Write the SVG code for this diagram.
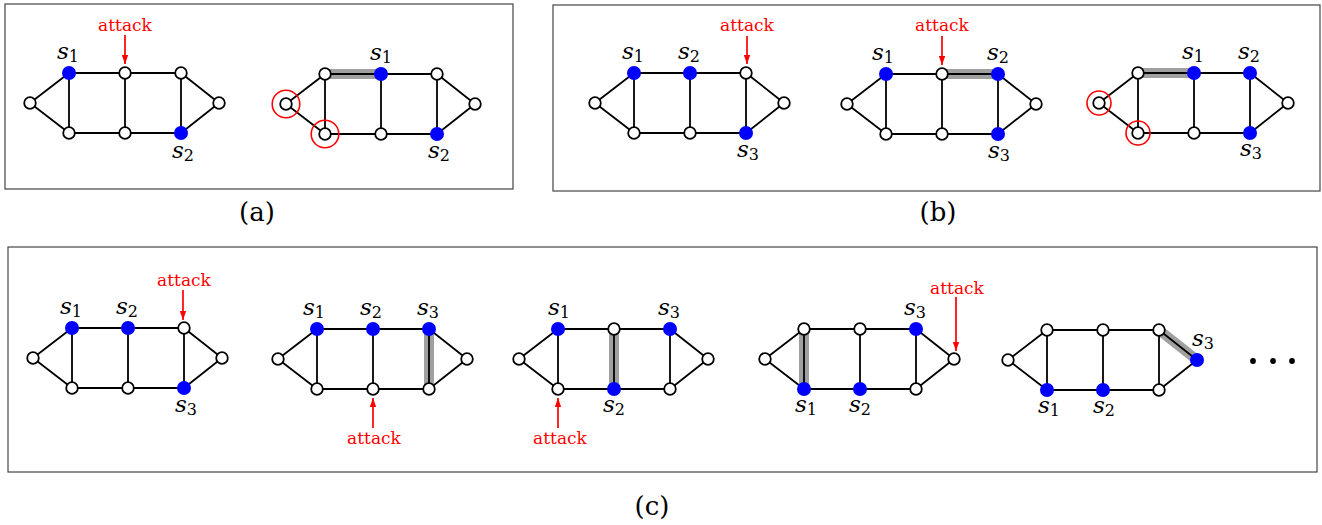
<svg xmlns="http://www.w3.org/2000/svg" xmlns:xlink="http://www.w3.org/1999/xlink" width="1322" height="525" viewBox="0 0 1322 525">
<style>
.box{fill:none;stroke:#444;stroke-width:1.2}
.e{fill:none;stroke:#000;stroke-width:1.8;stroke-linejoin:round}
.hl{stroke:#a0a0a0;stroke-width:10;stroke-linecap:butt}
.w{fill:#fff;stroke:#000;stroke-width:1.8}
.b{fill:#0000ff}
.rc{fill:none;stroke:#ff0000;stroke-width:1.6}
.lab{font-family:"DejaVu Serif",serif;font-size:23px;font-style:italic;text-anchor:middle;fill:#000}
.sub{font-size:16px;font-style:normal}
.att{font-family:"DejaVu Serif",serif;font-size:17px;fill:#ff0000;text-anchor:middle}
.arr{stroke:#ff0000;stroke-width:1.7;fill:none}
.cap{font-family:"DejaVu Serif",serif;font-size:26px;text-anchor:middle;fill:#000}
</style>
<defs>
<path id="sk" d="M-39,30 L0,0 L112,0 L150,30 L112,60 L0,60 Z M0,0 V60 M56,0 V60 M112,0 V60"/>
<marker id="ah" viewBox="0 0 10 7" refX="10" refY="3.5" markerWidth="9" markerHeight="6.3" markerUnits="userSpaceOnUse" orient="auto"><path d="M0,0 L10,3.5 L0,7 Z" fill="#ff0000"/></marker>
</defs>
<g id="frames">
<rect class="box" x="5" y="4" width="508" height="185"/>
<rect class="box" x="553" y="5" width="767" height="186"/>
<rect class="box" x="8" y="247" width="1309" height="225"/>
</g>
<g id="highlights">
<line class="hl" x1="325" y1="74" x2="381" y2="74"/>
<line class="hl" x1="942" y1="74" x2="998" y2="74"/>
<line class="hl" x1="1138" y1="73" x2="1194" y2="73"/>
<line class="hl" x1="429" y1="329" x2="429" y2="389"/>
<line class="hl" x1="614" y1="329" x2="614" y2="389"/>
<line class="hl" x1="804" y1="329" x2="804" y2="389"/>
<line class="hl" x1="1159" y1="330" x2="1197" y2="360"/>
</g>
<g id="connectors">
<use class="e" xlink:href="#sk" href="#sk" x="69" y="73"/>
<use class="e" xlink:href="#sk" href="#sk" x="325" y="74"/>
<use class="e" xlink:href="#sk" href="#sk" x="634" y="73"/>
<use class="e" xlink:href="#sk" href="#sk" x="886" y="74"/>
<use class="e" xlink:href="#sk" href="#sk" x="1138" y="73"/>
<use class="e" xlink:href="#sk" href="#sk" x="72" y="328"/>
<use class="e" xlink:href="#sk" href="#sk" x="317" y="329"/>
<use class="e" xlink:href="#sk" href="#sk" x="558" y="329"/>
<use class="e" xlink:href="#sk" href="#sk" x="804" y="329"/>
<use class="e" xlink:href="#sk" href="#sk" x="1047" y="330"/>
<line class="arr" x1="125" y1="35" x2="125" y2="64" marker-end="url(#ah)"/>
<line class="arr" x1="747" y1="36" x2="747" y2="64" marker-end="url(#ah)"/>
<line class="arr" x1="942" y1="36" x2="942" y2="65" marker-end="url(#ah)"/>
<line class="arr" x1="183" y1="290" x2="183" y2="320" marker-end="url(#ah)"/>
<line class="arr" x1="373" y1="428" x2="373" y2="398" marker-end="url(#ah)"/>
<line class="arr" x1="558" y1="428" x2="558" y2="398" marker-end="url(#ah)"/>
<line class="arr" x1="956" y1="297" x2="956" y2="351" marker-end="url(#ah)"/>
</g>
<!-- graph a1 -->
<g id="a1-L"><circle class="w" cx="30" cy="103" r="5.8"/></g>
<g id="a1-T1"><circle class="b" cx="69" cy="73" r="7"/></g>
<g id="a1-T2"><circle class="w" cx="125" cy="73" r="5.8"/></g>
<g id="a1-T3"><circle class="w" cx="181" cy="73" r="5.8"/></g>
<g id="a1-R"><circle class="w" cx="219" cy="103" r="5.8"/></g>
<g id="a1-B1"><circle class="w" cx="69" cy="133" r="5.8"/></g>
<g id="a1-B2"><circle class="w" cx="125" cy="133" r="5.8"/></g>
<g id="a1-B3"><circle class="b" cx="181" cy="133" r="7"/></g>
<!-- graph a2 -->
<g id="a2-L"><circle class="w" cx="286" cy="104" r="5.8"/><circle class="rc" cx="286" cy="104" r="13.8"/></g>
<g id="a2-T1"><circle class="w" cx="325" cy="74" r="5.8"/></g>
<g id="a2-T2"><circle class="b" cx="381" cy="74" r="7"/></g>
<g id="a2-T3"><circle class="w" cx="437" cy="74" r="5.8"/></g>
<g id="a2-R"><circle class="w" cx="475" cy="104" r="5.8"/></g>
<g id="a2-B1"><circle class="w" cx="325" cy="134" r="5.8"/><circle class="rc" cx="325" cy="134" r="13.8"/></g>
<g id="a2-B2"><circle class="w" cx="381" cy="134" r="5.8"/></g>
<g id="a2-B3"><circle class="b" cx="437" cy="134" r="7"/></g>
<!-- graph b1 -->
<g id="b1-L"><circle class="w" cx="595" cy="103" r="5.8"/></g>
<g id="b1-T1"><circle class="b" cx="634" cy="73" r="7"/></g>
<g id="b1-T2"><circle class="b" cx="690" cy="73" r="7"/></g>
<g id="b1-T3"><circle class="w" cx="746" cy="73" r="5.8"/></g>
<g id="b1-R"><circle class="w" cx="784" cy="103" r="5.8"/></g>
<g id="b1-B1"><circle class="w" cx="634" cy="133" r="5.8"/></g>
<g id="b1-B2"><circle class="w" cx="690" cy="133" r="5.8"/></g>
<g id="b1-B3"><circle class="b" cx="746" cy="133" r="7"/></g>
<!-- graph b2 -->
<g id="b2-L"><circle class="w" cx="847" cy="104" r="5.8"/></g>
<g id="b2-T1"><circle class="b" cx="886" cy="74" r="7"/></g>
<g id="b2-T2"><circle class="w" cx="942" cy="74" r="5.8"/></g>
<g id="b2-T3"><circle class="b" cx="998" cy="74" r="7"/></g>
<g id="b2-R"><circle class="w" cx="1036" cy="104" r="5.8"/></g>
<g id="b2-B1"><circle class="w" cx="886" cy="134" r="5.8"/></g>
<g id="b2-B2"><circle class="w" cx="942" cy="134" r="5.8"/></g>
<g id="b2-B3"><circle class="b" cx="998" cy="134" r="7"/></g>
<!-- graph b3 -->
<g id="b3-L"><circle class="w" cx="1099" cy="103" r="5.8"/><circle class="rc" cx="1099" cy="103" r="12"/></g>
<g id="b3-T1"><circle class="w" cx="1138" cy="73" r="5.8"/></g>
<g id="b3-T2"><circle class="b" cx="1194" cy="73" r="7"/></g>
<g id="b3-T3"><circle class="b" cx="1250" cy="73" r="7"/></g>
<g id="b3-R"><circle class="w" cx="1288" cy="103" r="5.8"/></g>
<g id="b3-B1"><circle class="w" cx="1138" cy="133" r="5.8"/><circle class="rc" cx="1138" cy="133" r="12"/></g>
<g id="b3-B2"><circle class="w" cx="1194" cy="133" r="5.8"/></g>
<g id="b3-B3"><circle class="b" cx="1250" cy="133" r="7"/></g>
<!-- graph c1 -->
<g id="c1-L"><circle class="w" cx="33" cy="358" r="5.8"/></g>
<g id="c1-T1"><circle class="b" cx="72" cy="328" r="7"/></g>
<g id="c1-T2"><circle class="b" cx="128" cy="328" r="7"/></g>
<g id="c1-T3"><circle class="w" cx="184" cy="328" r="5.8"/></g>
<g id="c1-R"><circle class="w" cx="222" cy="358" r="5.8"/></g>
<g id="c1-B1"><circle class="w" cx="72" cy="388" r="5.8"/></g>
<g id="c1-B2"><circle class="w" cx="128" cy="388" r="5.8"/></g>
<g id="c1-B3"><circle class="b" cx="184" cy="388" r="7"/></g>
<!-- graph c2 -->
<g id="c2-L"><circle class="w" cx="278" cy="359" r="5.8"/></g>
<g id="c2-T1"><circle class="b" cx="317" cy="329" r="7"/></g>
<g id="c2-T2"><circle class="b" cx="373" cy="329" r="7"/></g>
<g id="c2-T3"><circle class="b" cx="429" cy="329" r="7"/></g>
<g id="c2-R"><circle class="w" cx="467" cy="359" r="5.8"/></g>
<g id="c2-B1"><circle class="w" cx="317" cy="389" r="5.8"/></g>
<g id="c2-B2"><circle class="w" cx="373" cy="389" r="5.8"/></g>
<g id="c2-B3"><circle class="w" cx="429" cy="389" r="5.8"/></g>
<!-- graph c3 -->
<g id="c3-L"><circle class="w" cx="519" cy="359" r="5.8"/></g>
<g id="c3-T1"><circle class="b" cx="558" cy="329" r="7"/></g>
<g id="c3-T2"><circle class="w" cx="614" cy="329" r="5.8"/></g>
<g id="c3-T3"><circle class="b" cx="670" cy="329" r="7"/></g>
<g id="c3-R"><circle class="w" cx="708" cy="359" r="5.8"/></g>
<g id="c3-B1"><circle class="w" cx="558" cy="389" r="5.8"/></g>
<g id="c3-B2"><circle class="b" cx="614" cy="389" r="7"/></g>
<g id="c3-B3"><circle class="w" cx="670" cy="389" r="5.8"/></g>
<!-- graph c4 -->
<g id="c4-L"><circle class="w" cx="765" cy="359" r="5.8"/></g>
<g id="c4-T1"><circle class="w" cx="804" cy="329" r="5.8"/></g>
<g id="c4-T2"><circle class="w" cx="860" cy="329" r="5.8"/></g>
<g id="c4-T3"><circle class="b" cx="916" cy="329" r="7"/></g>
<g id="c4-R"><circle class="w" cx="954" cy="359" r="5.8"/></g>
<g id="c4-B1"><circle class="b" cx="804" cy="389" r="7"/></g>
<g id="c4-B2"><circle class="b" cx="860" cy="389" r="7"/></g>
<g id="c4-B3"><circle class="w" cx="916" cy="389" r="5.8"/></g>
<!-- graph c5 -->
<g id="c5-L"><circle class="w" cx="1008" cy="360" r="5.8"/></g>
<g id="c5-T1"><circle class="w" cx="1047" cy="330" r="5.8"/></g>
<g id="c5-T2"><circle class="w" cx="1103" cy="330" r="5.8"/></g>
<g id="c5-T3"><circle class="w" cx="1159" cy="330" r="5.8"/></g>
<g id="c5-R"><circle class="b" cx="1197" cy="360" r="7"/></g>
<g id="c5-B1"><circle class="b" cx="1047" cy="390" r="7"/></g>
<g id="c5-B2"><circle class="b" cx="1103" cy="390" r="7"/></g>
<g id="c5-B3"><circle class="w" cx="1159" cy="390" r="5.8"/></g>
<g id="ellipsis">
<circle cx="1253" cy="361" r="2.9"/><circle cx="1273" cy="361" r="2.9"/><circle cx="1292" cy="361" r="2.9"/>
</g>
<g id="labels">
<text class="lab" x="68" y="59">s<tspan class="sub" dy="3">1</tspan></text>
<text class="lab" x="183" y="158">s<tspan class="sub" dy="3">2</tspan></text>
<text class="lab" x="381" y="60">s<tspan class="sub" dy="3">1</tspan></text>
<text class="lab" x="439" y="158">s<tspan class="sub" dy="3">2</tspan></text>
<text class="lab" x="633" y="59">s<tspan class="sub" dy="3">1</tspan></text>
<text class="lab" x="689" y="59">s<tspan class="sub" dy="3">2</tspan></text>
<text class="lab" x="748" y="157">s<tspan class="sub" dy="3">3</tspan></text>
<text class="lab" x="883" y="60">s<tspan class="sub" dy="3">1</tspan></text>
<text class="lab" x="998" y="60">s<tspan class="sub" dy="3">2</tspan></text>
<text class="lab" x="999" y="158">s<tspan class="sub" dy="3">3</tspan></text>
<text class="lab" x="1193" y="59">s<tspan class="sub" dy="3">1</tspan></text>
<text class="lab" x="1249" y="59">s<tspan class="sub" dy="3">2</tspan></text>
<text class="lab" x="1251" y="156">s<tspan class="sub" dy="3">3</tspan></text>
<text class="lab" x="71" y="314">s<tspan class="sub" dy="3">1</tspan></text>
<text class="lab" x="127" y="314">s<tspan class="sub" dy="3">2</tspan></text>
<text class="lab" x="186" y="412">s<tspan class="sub" dy="3">3</tspan></text>
<text class="lab" x="314" y="315">s<tspan class="sub" dy="3">1</tspan></text>
<text class="lab" x="371" y="315">s<tspan class="sub" dy="3">2</tspan></text>
<text class="lab" x="428" y="315">s<tspan class="sub" dy="3">3</tspan></text>
<text class="lab" x="559" y="315">s<tspan class="sub" dy="3">1</tspan></text>
<text class="lab" x="614" y="412">s<tspan class="sub" dy="3">2</tspan></text>
<text class="lab" x="669" y="315">s<tspan class="sub" dy="3">3</tspan></text>
<text class="lab" x="806" y="412">s<tspan class="sub" dy="3">1</tspan></text>
<text class="lab" x="860" y="412">s<tspan class="sub" dy="3">2</tspan></text>
<text class="lab" x="915" y="315">s<tspan class="sub" dy="3">3</tspan></text>
<text class="lab" x="1049" y="413">s<tspan class="sub" dy="3">1</tspan></text>
<text class="lab" x="1104" y="413">s<tspan class="sub" dy="3">2</tspan></text>
<text class="lab" x="1203" y="346">s<tspan class="sub" dy="3">3</tspan></text>
</g>
<g id="attacks">
<text class="att" x="125" y="31">attack</text>
<text class="att" x="747" y="31">attack</text>
<text class="att" x="942" y="31">attack</text>
<text class="att" x="184" y="286">attack</text>
<text class="att" x="374" y="444">attack</text>
<text class="att" x="560" y="444">attack</text>
<text class="att" x="957" y="294">attack</text>
</g>
<g id="captions">
<text class="cap" x="257" y="221">(a)</text>
<text class="cap" x="938" y="221">(b)</text>
<text class="cap" x="652" y="515">(c)</text>
</g>
</svg>
